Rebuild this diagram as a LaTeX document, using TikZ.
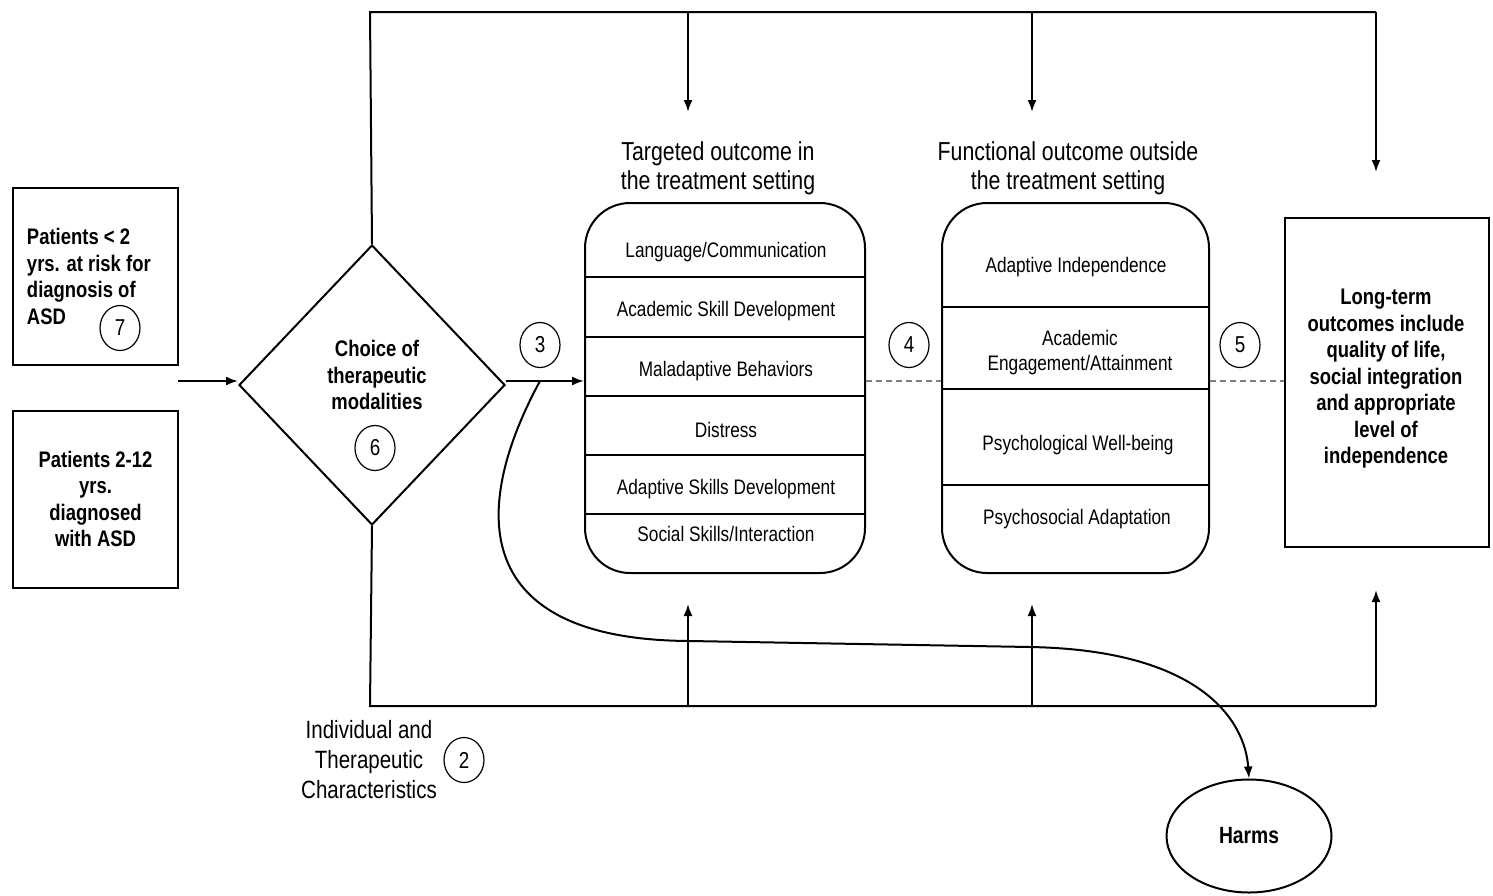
\documentclass[tikz,border=0pt]{standalone}
\usepackage{fontspec}
\setmainfont{Liberation Sans}[FakeStretch=0.82]
\usetikzlibrary{shapes.geometric,arrows.meta}

\tikzset{
  numcirc/.style={draw, ellipse, line width=1.2pt, inner sep=0pt, minimum width=40pt, minimum height=45pt, font=\fontsize{23}{23}\selectfont},
  rowtxt/.style={font=\fontsize{21}{25}\selectfont, align=center},
  headtxt/.style={font=\fontsize{26}{29}\selectfont, align=center},
  boldtxt/.style={font=\bfseries\fontsize{22.5}{26.5}\selectfont, align=center},
  popbox/.style={draw, minimum width=165pt, minimum height=177pt, inner sep=0pt},
  outbox/.style={draw, rounded corners=45pt, minimum height=370pt, inner sep=0pt},
}

\begin{document}
\begin{tikzpicture}[x=1pt, y=-1pt, line width=2pt, >={Latex[length=12pt,width=9pt]}]
\useasboundingbox (0,0) rectangle (1493,895);

% populations
\node[popbox, boldtxt, align=flush left, text width=137pt] (young) at (95.5,276.5)
    {Patients < 2\\yrs. at risk for\\diagnosis of\\ASD};
\node[numcirc] (n7) at (120,328) {7};
\node[popbox, boldtxt] (older) at (95.5,499)
    {Patients 2-12\\yrs.\\diagnosed\\with ASD};

% choice
\node[draw, diamond, minimum width=266pt, minimum height=280pt, inner sep=0pt] (choice) at (372,385) {};
\node[boldtxt] (choicetxt) at (377,375) {Choice of\\therapeutic\\modalities};
\node[numcirc] (n6) at (375,448) {6};

% outcome boxes
\node[headtxt] (tgthead) at (718,168) {Targeted outcome in\\the treatment setting};
\node[outbox, minimum width=280pt] (tgt) at (725,388) {};
\node[headtxt] (funhead) at (1068,168) {Functional outcome outside\\the treatment setting};
\node[outbox, minimum width=267pt] (fun) at (1075.5,388) {};
\node[draw, minimum width=204pt, minimum height=329pt, inner sep=0pt] (longbox) at (1387,382.5) {};
\node[boldtxt] (longtxt) at (1386,379)
    {Long-term\\outcomes include\\quality of life,\\social integration\\and appropriate\\level of\\independence};

\foreach \y in {277,337,396,455,514}
    \draw (tgt.west |- 0,\y) -- (tgt.east |- 0,\y);
\foreach \y in {307,389,485}
    \draw (fun.west |- 0,\y) -- (fun.east |- 0,\y);

\foreach \t/\y [count=\i] in {{Language/Communication}/252, {Academic Skill Development}/311,
    {Maladaptive Behaviors}/371, {Distress}/430, {Adaptive Skills Development}/489, {Social Skills/Interaction}/534}
    \node[rowtxt] (tgt\i) at (726,\y) {\t};
\node[rowtxt] (fun1) at (1076,267) {Adaptive Independence};
\node[rowtxt] (fun2) at (1080,353) {Academic\\Engagement/Attainment};
\node[rowtxt] (fun3) at (1078,445) {Psychological Well-being};
\node[rowtxt] (fun4) at (1077,519) {Psychosocial Adaptation};

% key questions
\node[numcirc] (n3) at (540,345) {3};
\node[numcirc] (n4) at (909,345) {4};
\node[numcirc] (n5) at (1240,345) {5};

% characteristics
\node[headtxt, font=\fontsize{25}{30}\selectfont] (chars) at (369,760) {Individual and\\Therapeutic\\Characteristics};
\node[numcirc] (n2) at (464,760) {2};
\node[draw, ellipse, minimum width=165pt, minimum height=113pt, font=\bfseries\fontsize{23.5}{23.5}\selectfont] (harms) at (1249,836) {Harms};

% flow
\coordinate (in) at (178,381);
\coordinate (hs) at (540,381);
\draw[->] (in) -- (in -| choice.west);
\draw[->] (choice.east |- hs) -- (tgt.west |- hs);
\draw[dashed, gray, dash pattern=on 6pt off 4pt] (tgt.east |- hs) -- (fun.west |- hs);
\draw[dashed, gray, dash pattern=on 6pt off 4pt] (fun.east |- hs) -- (longbox.west |- hs);

% frame of characteristics
\coordinate (topL) at (370,12);
\coordinate (topR) at (1376,12);
\coordinate (botL) at (370,706);
\coordinate (botR) at (1376,706);
\draw (choice.north) -- (topL) -- (topR);
\draw (choice.south) -- (botL) -- (botR);
\draw[->] (688,12) -- (688,112);
\draw[->] (1032,12) -- (1032,112);
\draw[->] (topR) -- (1376,172);
\draw[->] (688,706) -- (688,604);
\draw[->] (1032,706) -- (1032,604);
\draw[->] (botR) -- (1376,590);

% harms
\draw[->] (hs) .. controls (470,510) and (470,640) .. (690,641) -- (1030,647)
    .. controls (1200,650) and (1245,720) .. (harms.north);
\end{tikzpicture}
\end{document}
